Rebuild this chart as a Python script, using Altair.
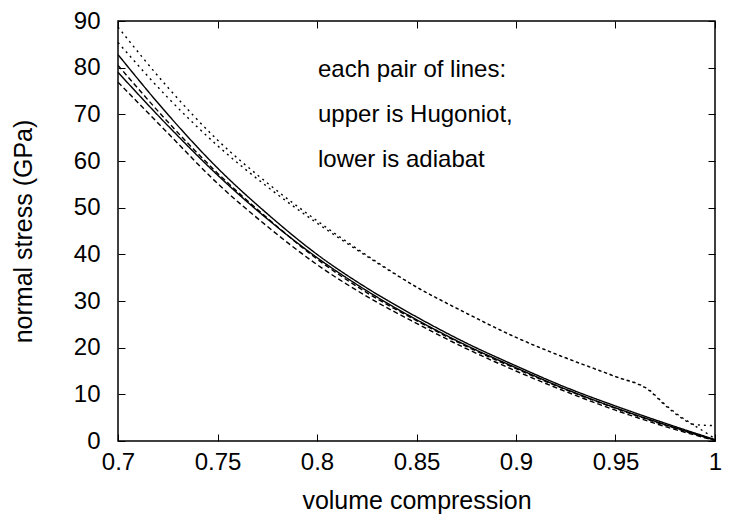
import altair as alt
import pandas as pd

# ---- data ----
x_main = [0.7, 0.725, 0.75, 0.775, 0.8, 0.825, 0.85, 0.875, 0.9, 0.925, 0.95, 0.975, 1.0]
solid_hug = [82.8, 70.0, 58.5, 48.7, 40.0, 32.8, 26.6, 21.0, 16.1, 11.5, 7.5, 3.8, 0.3]
solid_adi = [79.0, 67.6, 57.0, 47.6, 39.3, 32.2, 26.0, 20.5, 15.7, 11.1, 7.1, 3.5, 0.2]
dash_hug = [80.5, 68.4, 57.4, 47.8, 39.0, 31.8, 25.8, 20.3, 15.5, 11.0, 7.0, 3.4, 0.2]
dash_adi = [76.9, 66.0, 55.2, 46.0, 37.8, 31.0, 25.2, 19.8, 15.0, 10.6, 6.6, 3.1, 0.1]

x_dot = [0.7, 0.725, 0.75, 0.775, 0.8, 0.825, 0.85, 0.875, 0.9, 0.925, 0.95, 0.967, 0.975, 0.985, 0.99, 1.0]
dot_hug = [88.7, 75.8, 64.5, 55.3, 47.2, 39.8, 33.0, 27.4, 22.2, 17.8, 13.8, 10.9, 7.8, 4.6, 3.5, 3.3]
dot_adi = [85.4, 73.6, 63.3, 54.5, 46.7, 39.6, 33.0, 27.4, 22.2, 17.8, 13.8, 10.8, 7.6, 4.4, 3.2, 0.5]

x_ticks = [0.7, 0.75, 0.8, 0.85, 0.9, 0.95, 1.0]
y_ticks = [0, 10, 20, 30, 40, 50, 60, 70, 80, 90]

note_lines = ["each pair of lines:", "upper is Hugoniot,", "lower is adiabat"]
note_x = [0.8005, 0.8005, 0.8005]
note_y = [79.5, 69.9, 60.2]

rows = []
for name, style, xs, ys in [
    ("solid_hug", "solid", x_main, solid_hug),
    ("solid_adi", "solid", x_main, solid_adi),
    ("dash_hug", "dashed", x_main, dash_hug),
    ("dash_adi", "dashed", x_main, dash_adi),
    ("dot_hug", "dotted", x_dot, dot_hug),
    ("dot_adi", "dotted", x_dot, dot_adi),
]:
    for xv, yv in zip(xs, ys):
        rows.append({"x": xv, "y": yv, "series": name, "style": style})
df = pd.DataFrame(rows)
notes = pd.DataFrame({"text": note_lines, "x": note_x, "y": note_y})

FONT = "Liberation Sans"
xs = alt.Scale(domain=[0.7, 1.0], nice=False, zero=False)
ys = alt.Scale(domain=[0, 90], nice=False, zero=False)

lines = alt.Chart(df).mark_line(color="black", strokeWidth=1.4, interpolate="monotone").encode(
    x=alt.X("x:Q", scale=xs, axis=alt.Axis(
        values=x_ticks, format="~g", ticks=False, tickSize=0, domain=False, grid=False,
        labelFontSize=24, labelFont=FONT, labelColor="black", labelPadding=9,
        labelFlush=False, labelOverlap=False,
        title="volume compression", titleFont=FONT, titleFontSize=25,
        titleFontWeight="normal", titleColor="black", titlePadding=14)),
    y=alt.Y("y:Q", scale=ys, axis=alt.Axis(
        values=y_ticks, ticks=False, tickSize=0, domain=False, grid=False,
        labelFontSize=24, labelFont=FONT, labelColor="black", labelPadding=18,
        labelFlush=False, labelOverlap=False,
        title="normal stress (GPa)", titleFont=FONT, titleFontSize=25,
        titleFontWeight="normal", titleColor="black", titlePadding=37)),
    detail="series:N",
    strokeDash=alt.StrokeDash("style:N", scale=alt.Scale(
        domain=["solid", "dashed", "dotted"], range=[[1, 0], [5, 3], [2, 4]]), legend=None),
)

def tick_axis(orient):
    return alt.Axis(orient=orient, values=x_ticks if orient in ("top", "bottom") else y_ticks,
                    offset=-7, tickSize=7, tickColor="black", tickWidth=1,
                    labels=False, domain=False, grid=False, title=None)

ticks_bl = alt.Chart(df).mark_point(opacity=0).encode(
    x=alt.X("x:Q", scale=xs, axis=tick_axis("bottom")),
    y=alt.Y("y:Q", scale=ys, axis=tick_axis("left")),
)
ticks_tr = alt.Chart(df).mark_point(opacity=0).encode(
    x=alt.X("x:Q", scale=xs, axis=tick_axis("top")),
    y=alt.Y("y:Q", scale=ys, axis=tick_axis("right")),
)

text = alt.Chart(notes).mark_text(align="left", baseline="middle", font=FONT,
                                  fontSize=24, color="black").encode(
    x=alt.X("x:Q", scale=xs, axis=None),
    y=alt.Y("y:Q", scale=ys, axis=None),
    text="text:N",
)

chart = alt.layer(lines, ticks_bl, ticks_tr, text).resolve_axis(
    x="independent", y="independent"
).properties(
    width=597, height=420,
    autosize=alt.AutoSizeParams(type="none"),
    padding={"left": 110, "top": 13, "right": 7, "bottom": 76},
    background="white",
).configure_view(stroke="black", strokeWidth=1.5)

chart.save("out.html", embed_options={"renderer": "svg", "actions": False})
